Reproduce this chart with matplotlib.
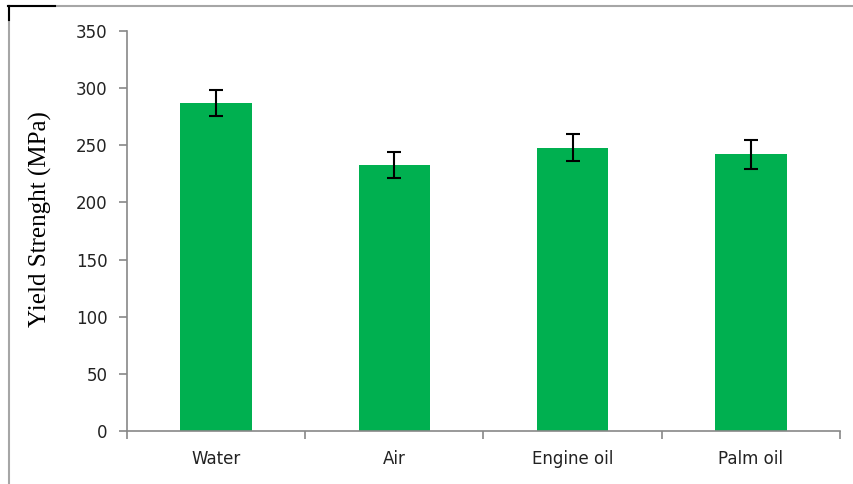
import matplotlib.pyplot as plt
from matplotlib.lines import Line2D
import numpy as np

# data
cats = ["Water", "Air", "Engine oil", "Palm oil"]
yield_str = [287, 233, 248, 242]
err = [11.5, 11.5, 12, 12.5]

fig = plt.figure(figsize=(8.54, 4.84), dpi=100)
ax = fig.add_axes([127/854, 53/484, 713/854, 400/484])

x = np.arange(len(cats))
ax.bar(x, yield_str, width=0.4, color='#00B050', yerr=err,
       error_kw=dict(ecolor='black', elinewidth=1.5, capsize=5, capthick=1.5))

ax.set_xlim(-0.5, 3.5)
ax.set_ylim(0, 350)
ax.set_yticks(range(0, 351, 50))
ax.set_xticks(x)
ax.set_xticklabels(cats)
ax.set_xticks(np.arange(-0.5, 4, 1), minor=True)

axcol = '#888888'
for s in ['top', 'right']:
    ax.spines[s].set_visible(False)
for s in ['left', 'bottom']:
    ax.spines[s].set_color(axcol)
    ax.spines[s].set_linewidth(1.2)
ax.tick_params(axis='y', colors=axcol, labelcolor='#222222', labelsize=12, length=6, width=1.2, pad=8)
ax.tick_params(axis='x', which='major', length=0, labelsize=12, labelcolor='#222222', pad=14)
ax.tick_params(axis='x', which='minor', length=6, width=1.2, color=axcol)

ax.set_ylabel("Yield Strenght (MPa)", family='Liberation Serif', fontsize=18, labelpad=16)
ax.yaxis.set_label_coords(-0.105, 0.53)

# outer frame lines
fig.add_artist(Line2D([8/854, 1], [1-6/484, 1-6/484], color='#A6A6A6', lw=1.5))
fig.add_artist(Line2D([8/854, 55/854], [1-6/484, 1-6/484], color='black', lw=1.5))
fig.add_artist(Line2D([9/854, 9/854], [0, 1-6/484], color='#A6A6A6', lw=1.5))
fig.add_artist(Line2D([9/854, 9/854], [1-20/484, 1-6/484], color='black', lw=1.5))

fig.savefig("out.png", dpi=100)
